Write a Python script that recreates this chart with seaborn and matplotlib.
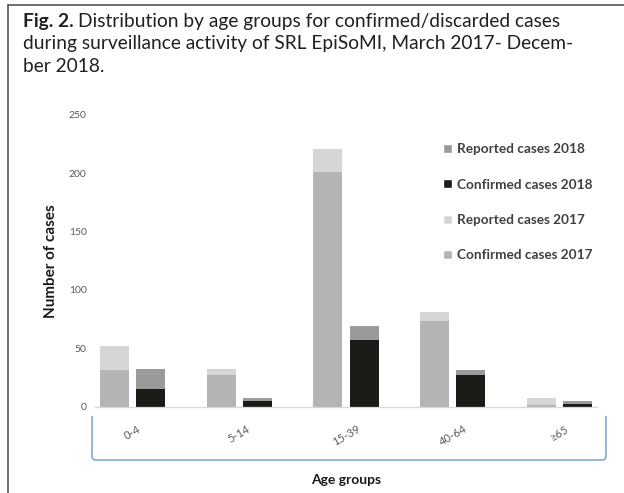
import numpy as np
import pandas as pd
import matplotlib
matplotlib.use("Agg")
import matplotlib.pyplot as plt
import seaborn as sns
from matplotlib.patches import Patch, PathPatch
from matplotlib.path import Path
from matplotlib.lines import Line2D

# data
age_groups = ["0-4", "5-14", "15-39", "40-64", "≥65"]
reported_2017 = [52, 32, 221, 81, 7]
confirmed_2017 = [31, 27, 201, 73, 1]
reported_2018 = [32, 7, 69, 31, 5]
confirmed_2018 = [15, 5, 57, 27, 2]
years = ["2017", "2018"]

df = pd.DataFrame({
    "age": age_groups * 2,
    "year": ["2017"] * 5 + ["2018"] * 5,
    "reported": reported_2017 + reported_2018,
    "confirmed": confirmed_2017 + confirmed_2018,
})

col_rep = {"2017": "#d6d6d6", "2018": "#9a9a9a"}
col_conf = {"2017": "#b4b4b4", "2018": "#1a1a16"}

sns.set_style("white")
plt.rcParams["font.family"] = ["Lato", "DejaVu Sans"]

W, H = 624, 493
fig = plt.figure(figsize=(W / 100, H / 100), dpi=100)
ax = fig.add_axes([95 / W, 1 - 406.6 / H, (597 - 95) / W, (406.6 - 115) / H])

sns.barplot(data=df, x="age", y="reported", hue="year", hue_order=years,
            palette=col_rep, width=0.68, gap=0.2, ax=ax, legend=False,
            saturation=1, errorbar=None, linewidth=0)
sns.barplot(data=df, x="age", y="confirmed", hue="year", hue_order=years,
            palette=col_conf, width=0.68, gap=0.2, ax=ax, legend=False,
            saturation=1, errorbar=None, linewidth=0)

ax.set_xlim(-0.35, 4.35)
ax.set_ylim(0, 250)
ax.set_yticks([0, 50, 100, 150, 200, 250])
for s in ["top", "right", "left"]:
    ax.spines[s].set_visible(False)
ax.spines["bottom"].set_color("#d9d9d9")
ax.spines["bottom"].set_linewidth(0.9)
ax.tick_params(axis="y", length=0, pad=6, labelsize=7.5, labelcolor="#595959")
ax.tick_params(axis="x", length=0, pad=12, labelsize=8, labelcolor="#595959")
for lab in ax.get_xticklabels():
    lab.set_rotation(30)
    lab.set_ha("center")
ax.set_ylabel("Number of cases", fontsize=11, fontweight="bold", color="#1a1a1a", labelpad=8)
ax.set_xlabel("Age groups", fontsize=10, fontweight="bold", color="#1a1a1a", labelpad=19)

handles = [
    Patch(facecolor=col_rep["2018"], label="Reported cases 2018"),
    Patch(facecolor=col_conf["2018"], label="Confirmed cases 2018"),
    Patch(facecolor=col_rep["2017"], label="Reported cases 2017"),
    Patch(facecolor=col_conf["2017"], label="Confirmed cases 2017"),
]
leg = fig.legend(handles=handles, loc="upper left", bbox_to_anchor=(431 / W, 1 - 131 / H),
                 frameon=False, handlelength=0.65, handleheight=0.65, handletextpad=0.35,
                 labelspacing=1.72, prop={"size": 9.8, "weight": "bold"})
for t in leg.get_texts():
    t.set_color("#404040")

# blue bracket under the category labels
def fx(px):
    return px / W

def fy(py):
    return 1 - py / H

r = 4
verts = [(fx(92), fy(416)), (fx(92), fy(460 - r)), (fx(92), fy(460)), (fx(92 + r), fy(460)),
         (fx(606 - r), fy(460)), (fx(606), fy(460)), (fx(606), fy(460 - r)), (fx(606), fy(416))]
codes = [Path.MOVETO, Path.LINETO, Path.CURVE3, Path.CURVE3,
         Path.LINETO, Path.CURVE3, Path.CURVE3, Path.LINETO]
fig.add_artist(PathPatch(Path(verts, codes), transform=fig.transFigure,
                         facecolor="none", edgecolor="#6b9bd0", lw=1.0))

# frame lines (top and left)
fig.add_artist(Line2D([fx(8), 1], [fy(5), fy(5)], transform=fig.transFigure, color="#555555", lw=1.2))
fig.add_artist(Line2D([fx(8), fx(8)], [fy(5), 0], transform=fig.transFigure, color="#555555", lw=1.2))

# caption
cap_kw = dict(fontsize=13.8, color="#231f20", va="center", ha="left", transform=fig.transFigure)
t1 = fig.text(fx(23), fy(21), "Fig. 2.", fontweight="bold", **cap_kw)
fig.canvas.draw()
bb = t1.get_window_extent()
fig.text(bb.x1 / W + 4 / W, fy(21), "Distribution by age groups for confirmed/discarded cases", **cap_kw)
fig.text(fx(23), fy(44), "during surveillance activity of SRL EpiSoMI, March 2017- Decem-", **cap_kw)
fig.text(fx(23), fy(67), "ber 2018.", **cap_kw)

fig.savefig("out.png", dpi=100)
